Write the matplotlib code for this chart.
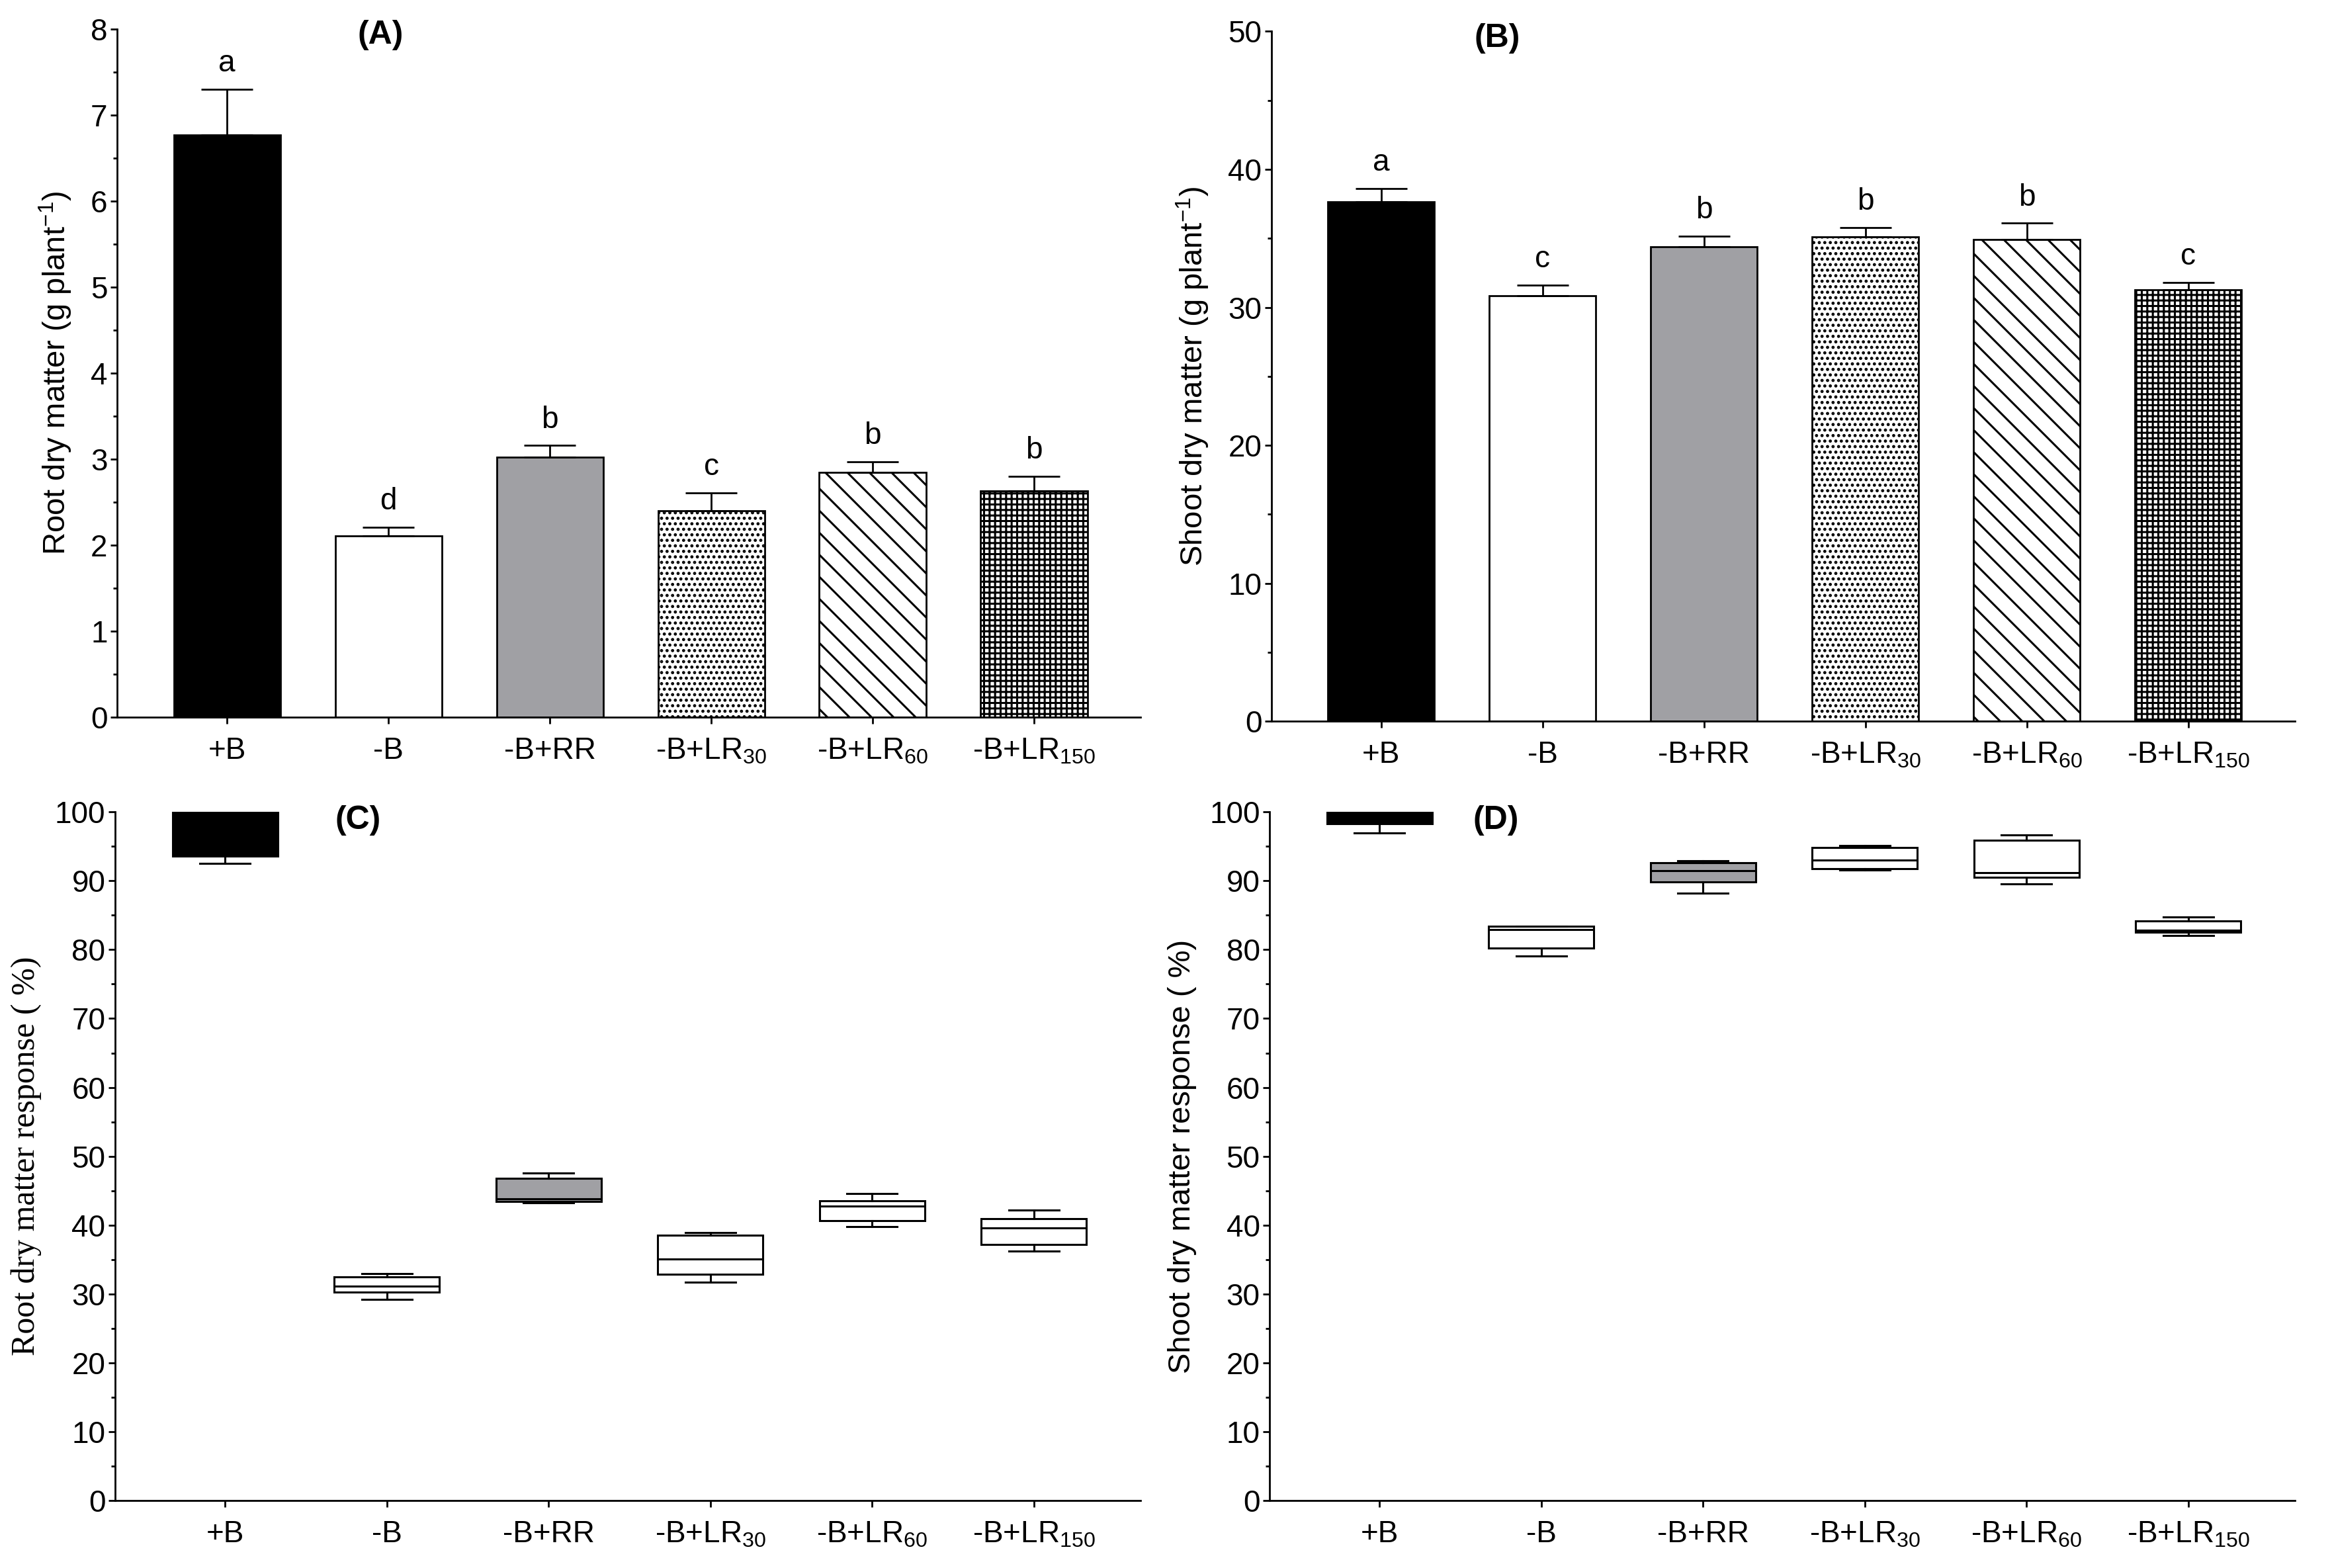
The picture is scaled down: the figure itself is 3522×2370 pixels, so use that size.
import numpy as np
import matplotlib
matplotlib.use("Agg")
import matplotlib.pyplot as plt
from matplotlib.ticker import MultipleLocator

plt.rcParams['font.family'] = ['Liberation Sans', 'DejaVu Sans']
plt.rcParams['mathtext.default'] = 'regular'
plt.rcParams['hatch.linewidth'] = 2.2

# treatments
labels = ['+B', '-B', '-B+RR', '-B+LR$_{30}$', '-B+LR$_{60}$', '-B+LR$_{150}$']

# (A) root dry matter, mean and SE
root_mean = [6.77, 2.11, 3.02, 2.40, 2.85, 2.63]
root_se = [0.53, 0.10, 0.14, 0.21, 0.12, 0.17]
root_letters = ['a', 'd', 'b', 'c', 'b', 'b']

# (B) shoot dry matter, mean and SE
shoot_mean = [37.65, 30.85, 34.4, 35.1, 34.9, 31.25]
shoot_se = [0.95, 0.75, 0.75, 0.7, 1.2, 0.55]
shoot_letters = ['a', 'c', 'b', 'b', 'b', 'c']

# (C) root dry matter response (%) box stats
root_whislo = [92.5, 29.2, 43.2, 31.7, 39.8, 36.2]
root_q1 = [93.6, 30.3, 43.4, 32.9, 40.6, 37.2]
root_med = [100.0, 31.1, 43.8, 35.1, 42.8, 39.6]
root_q3 = [100.0, 32.5, 46.8, 38.5, 43.5, 40.9]
root_whishi = [100.0, 33.0, 47.6, 38.9, 44.6, 42.2]

# (D) shoot dry matter response (%) box stats
shoot_whislo = [96.9, 79.1, 88.2, 91.6, 89.5, 82.1]
shoot_q1 = [98.3, 80.2, 89.8, 91.8, 90.5, 82.5]
shoot_med = [100.0, 82.9, 91.5, 93.0, 91.2, 82.8]
shoot_q3 = [100.0, 83.4, 92.6, 94.8, 95.9, 84.2]
shoot_whishi = [100.0, 83.4, 92.9, 95.1, 96.7, 84.7]

bar_fc = ['black', 'white', '#a0a0a4', 'white', 'white', 'white']
bar_hatch = [None, None, None, '..', '\\', '++']
box_fc = ['black', 'white', '#a0a0a4', 'white', 'white', 'white']

fs = 33
x = np.arange(len(labels))

fig = plt.figure(figsize=(35.22, 23.70), dpi=100)
axA = fig.add_axes([0.0503, 0.5426, 0.4392, 0.4388])
axB = fig.add_axes([0.5457, 0.5400, 0.4392, 0.4400])
axC = fig.add_axes([0.0494, 0.0430, 0.4401, 0.4392])
axD = fig.add_axes([0.5449, 0.0430, 0.4401, 0.4392])


def style(ax, top, major, minor):
    for s in ['top', 'right']:
        ax.spines[s].set_visible(False)
    for s in ['left', 'bottom']:
        ax.spines[s].set_linewidth(2.0)
    ax.set_xlim(-0.68, 5.66)
    ax.set_ylim(0, top)
    ax.yaxis.set_major_locator(MultipleLocator(major))
    ax.yaxis.set_minor_locator(MultipleLocator(minor))
    ax.tick_params(axis='both', which='major', length=7, width=2,
                   labelsize=fs, direction='out')
    ax.tick_params(axis='y', which='minor', length=4, width=2)
    ax.tick_params(axis='x', which='major', pad=14)
    ax.set_xticks(x)
    ax.set_xticklabels(labels)


def bars(ax, mean, se, letters):
    for i in range(len(mean)):
        ax.bar(x[i], mean[i], width=0.66, color=bar_fc[i], edgecolor='black',
               linewidth=2.0, hatch=bar_hatch[i], zorder=2)
    ax.errorbar(x, mean, yerr=[np.zeros(len(se)), se], fmt='none',
                ecolor='black', elinewidth=2.0, capsize=28, capthick=2.0,
                zorder=3)
    for i in range(len(mean)):
        ax.annotate(letters[i], (x[i], mean[i] + se[i]), xytext=(0, 12),
                    textcoords='offset points', ha='center', va='bottom',
                    fontsize=fs)


def boxes(ax, lo, q1, med, q3, hi):
    stats = []
    for i in range(len(lo)):
        stats.append(dict(whislo=lo[i], q1=q1[i], med=med[i], q3=q3[i],
                          whishi=hi[i]))
    bp = ax.bxp(stats, positions=x, widths=0.65, showfliers=False,
                patch_artist=True, capwidths=0.31,
                boxprops=dict(linewidth=2.2, edgecolor='black'),
                whiskerprops=dict(linewidth=2.2, color='black'),
                capprops=dict(linewidth=2.2, color='black'),
                medianprops=dict(linewidth=2.2, color='black'))
    for patch, c in zip(bp['boxes'], box_fc):
        patch.set_facecolor(c)


style(axA, 8, 1, 0.5)
bars(axA, root_mean, root_se, root_letters)
axA.set_ylabel('Root dry matter (g plant$^{-1}$)', fontsize=fs + 1, labelpad=18)
axA.text(0.95, 7.93, '(A)', ha='center', va='center', fontsize=36,
         fontweight='bold')

style(axB, 50, 10, 5)
bars(axB, shoot_mean, shoot_se, shoot_letters)
axB.set_ylabel('Shoot dry matter (g plant$^{-1}$)', fontsize=fs + 1, labelpad=18)
axB.text(0.72, 49.5, '(B)', ha='center', va='center', fontsize=36,
         fontweight='bold')

style(axC, 100, 10, 5)
boxes(axC, root_whislo, root_q1, root_med, root_q3, root_whishi)
axC.set_ylabel('Root dry matter response ( %)', fontsize=fs + 3,
               family=['Liberation Serif', 'DejaVu Serif'], labelpad=14)
axC.text(0.82, 98.8, '(C)', ha='center', va='center', fontsize=36,
         fontweight='bold')

style(axD, 100, 10, 5)
boxes(axD, shoot_whislo, shoot_q1, shoot_med, shoot_q3, shoot_whishi)
axD.set_ylabel('Shoot dry matter response ( %)', fontsize=fs + 1, labelpad=14)
axD.text(0.72, 98.8, '(D)', ha='center', va='center', fontsize=36,
         fontweight='bold')

for ax in [axC, axD]:
    ax.set_xticks(x)
    ax.set_xticklabels(labels)
    ax.set_xlim(-0.68, 5.66)

fig.savefig('out.png', dpi=100)
